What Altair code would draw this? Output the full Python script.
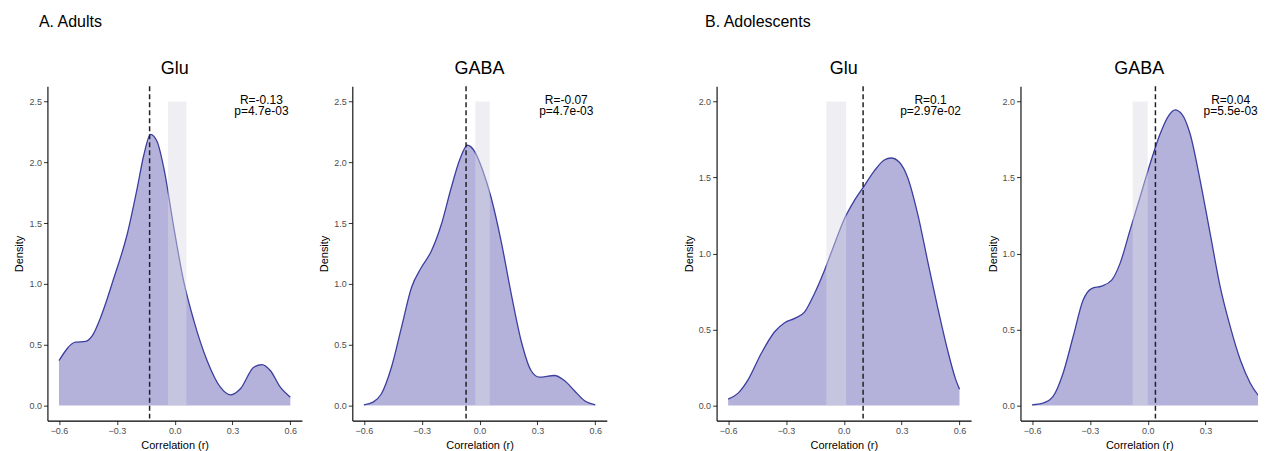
import altair as alt
import pandas as pd

FONT = "Liberation Sans"

# ---------------- data ----------------
# A. Adults - Glu
a_glu_x = [-0.6, -0.514, -0.462, -0.427, -0.384, -0.315, -0.246, -0.194, -0.160, -0.125,
           -0.091, -0.056, -0.004, 0.047, 0.099, 0.168, 0.237, 0.289, 0.341, 0.410,
           0.453, 0.496, 0.548, 0.6]
a_glu_y = [0.369, 0.52, 0.527, 0.574, 0.724, 1.05, 1.41, 1.79, 2.06, 2.23,
           2.17, 1.95, 1.46, 1.02, 0.70, 0.37, 0.15, 0.087, 0.137, 0.314,
           0.336, 0.287, 0.150, 0.068]
# A. Adults - GABA
a_gaba_x = [-0.6, -0.552, -0.509, -0.457, -0.405, -0.353, -0.302, -0.250, -0.198, -0.147,
            -0.103, -0.063, -0.026, 0.017, 0.060, 0.112, 0.164, 0.216, 0.267, 0.310,
            0.388, 0.440, 0.491, 0.543, 0.6]
a_gaba_y = [0.005, 0.027, 0.096, 0.314, 0.642, 0.97, 1.134, 1.27, 1.49, 1.79,
            2.02, 2.14, 2.09, 1.93, 1.71, 1.35, 0.92, 0.53, 0.287, 0.232,
            0.246, 0.205, 0.123, 0.041, 0.005]
# B. Adolescents - Glu
b_glu_x = [-0.6, -0.548, -0.497, -0.428, -0.359, -0.307, -0.255, -0.203, -0.152, -0.100,
           -0.048, 0.003, 0.055, 0.107, 0.159, 0.210, 0.245, 0.288, 0.331, 0.383,
           0.434, 0.486, 0.538, 0.581, 0.6]
b_glu_y = [0.042, 0.081, 0.168, 0.343, 0.485, 0.544, 0.573, 0.616, 0.737, 0.89,
           1.064, 1.228, 1.349, 1.447, 1.545, 1.615, 1.628, 1.60, 1.50, 1.26,
           0.955, 0.649, 0.365, 0.168, 0.107]
# B. Adolescents - GABA
b_gaba_x = [-0.6, -0.543, -0.491, -0.439, -0.387, -0.335, -0.291, -0.239, -0.187, -0.144,
            -0.092, -0.040, 0.012, 0.064, 0.108, 0.142, 0.177, 0.220, 0.272, 0.324,
            0.376, 0.428, 0.480, 0.532, 0.6]
b_gaba_y = [0.004, 0.015, 0.059, 0.212, 0.452, 0.693, 0.769, 0.785, 0.824, 0.933,
            1.152, 1.370, 1.589, 1.786, 1.906, 1.945, 1.917, 1.786, 1.48, 1.13,
            0.78, 0.518, 0.30, 0.146, 0.026]

panel_titles = ["Glu", "GABA", "Glu", "GABA"]
group_titles = ["A. Adults", "B. Adolescents"]
r_values = [-0.13, -0.07, 0.1, 0.04]
r_labels = ["R=-0.13", "R=-0.07", "R=0.1", "R=0.04"]
p_labels = ["p=4.7e-03", "p=4.7e-03", "p=2.97e-02", "p=5.5e-03"]
band_lo = [-0.035, -0.022, -0.091, -0.078]
band_hi = [0.061, 0.053, 0.012, 0.0]
band_top = [2.5, 2.5, 2.0, 2.0]
label_x = [0.45, 0.45, 0.45, 0.43]
x_ticks = [-0.6, -0.3, 0.0, 0.3, 0.6]
x_ticks_cut = [-0.6, -0.3, 0.0, 0.3]
y_ticks_adults = [0.0, 0.5, 1.0, 1.5, 2.0, 2.5]
y_ticks_adol = [0.0, 0.5, 1.0, 1.5, 2.0]

FILL = "#b4b2db"
LINE = "#3c3f9f"


def panel(i, xs, ys, ydomain, yticks, width, xdomain, xticks):
    curve = pd.DataFrame({"x": xs, "y": ys, "y0": [0.0] * len(xs)})
    band = pd.DataFrame({"x": [band_lo[i]], "hi": [band_hi[i]], "y": [0.0], "bt": [band_top[i]]})
    vline = pd.DataFrame({"x": [r_values[i]]})
    annot = pd.DataFrame({"x": [label_x[i]], "y": [band_top[i]],
                          "txt": [[r_labels[i], p_labels[i]]]})

    xscale = alt.Scale(domain=xdomain, nice=False, zero=False)
    yscale = alt.Scale(domain=ydomain, nice=False, zero=False)
    xax = alt.Axis(values=xticks, format=".1f", title="Correlation (r)")
    yax = alt.Axis(values=yticks, format=".1f", title="Density")
    X = alt.X("x:Q", scale=xscale, axis=xax)
    Y = alt.Y("y:Q", scale=yscale, axis=yax)

    area = alt.Chart(curve).mark_area(
        color=FILL, opacity=1, interpolate="monotone", clip=True,
        line={"color": LINE, "strokeWidth": 1.3, "clip": True},
    ).encode(x=X, y=Y, y2="y0:Q")
    rect = alt.Chart(band).mark_rect(color="#dcdce4", opacity=0.45).encode(
        x=X, x2="hi:Q", y=Y, y2="bt:Q",
    )
    rule = alt.Chart(vline).mark_rule(color="#222222", strokeWidth=1.5,
                                      strokeDash=[5, 3]).encode(x=X)
    txt = alt.Chart(annot).mark_text(font=FONT, fontSize=12, color="black",
                                     baseline="top", align="center",
                                     lineHeight=11, dy=-6).encode(
        x=X, y=Y, text="txt")

    return alt.layer(area, rect, rule, txt).properties(
        width=width, height=335,
        title=alt.TitleParams(panel_titles[i], fontSize=18, fontWeight="normal",
                              font=FONT, color="black", anchor="middle",
                              frame="group", offset=8),
    )


XD = [-0.66, 0.66]
p1 = panel(0, a_glu_x, a_glu_y, [-0.125, 2.625], y_ticks_adults, 255, XD, x_ticks)
p2 = panel(1, a_gaba_x, a_gaba_y, [-0.125, 2.625], y_ticks_adults, 255, XD, x_ticks)
p3 = panel(2, b_glu_x, b_glu_y, [-0.1, 2.1], y_ticks_adol, 255, XD, x_ticks)
# the last panel is cut by the right edge of the figure, as in the reference
p4 = panel(3, b_gaba_x, b_gaba_y, [-0.1, 2.1], y_ticks_adol, 238, [-0.66, 0.572], x_ticks_cut)

gA = alt.hconcat(p1, p2, spacing=16.5).properties(
    title=alt.TitleParams(group_titles[0], fontSize=16, fontWeight="normal", font=FONT,
                          color="black", anchor="start", dx=25, offset=30))
gB = alt.hconcat(p3, p4, spacing=15.5).properties(
    title=alt.TitleParams(group_titles[1], fontSize=16, fontWeight="normal", font=FONT,
                          color="black", anchor="start", dx=22, offset=30))

chart = alt.hconcat(gA, gB, spacing=75.5).properties(
    padding={"left": 5.5, "top": 5, "right": 0, "bottom": 0}
).configure_view(stroke=None).configure_axis(
    grid=False,
    domainColor="black", domainWidth=1.1,
    tickColor="#333333", tickSize=4, tickWidth=1,
    labelFont=FONT, labelFontSize=9, labelColor="#4d4d4d", labelPadding=2,
    titleFont=FONT, titleFontSize=11, titleFontWeight="normal", titleColor="black",
    titlePadding=4,
).configure_concat(spacing=16)

chart.save("out.html", embed_options={"renderer": "svg", "actions": False})
